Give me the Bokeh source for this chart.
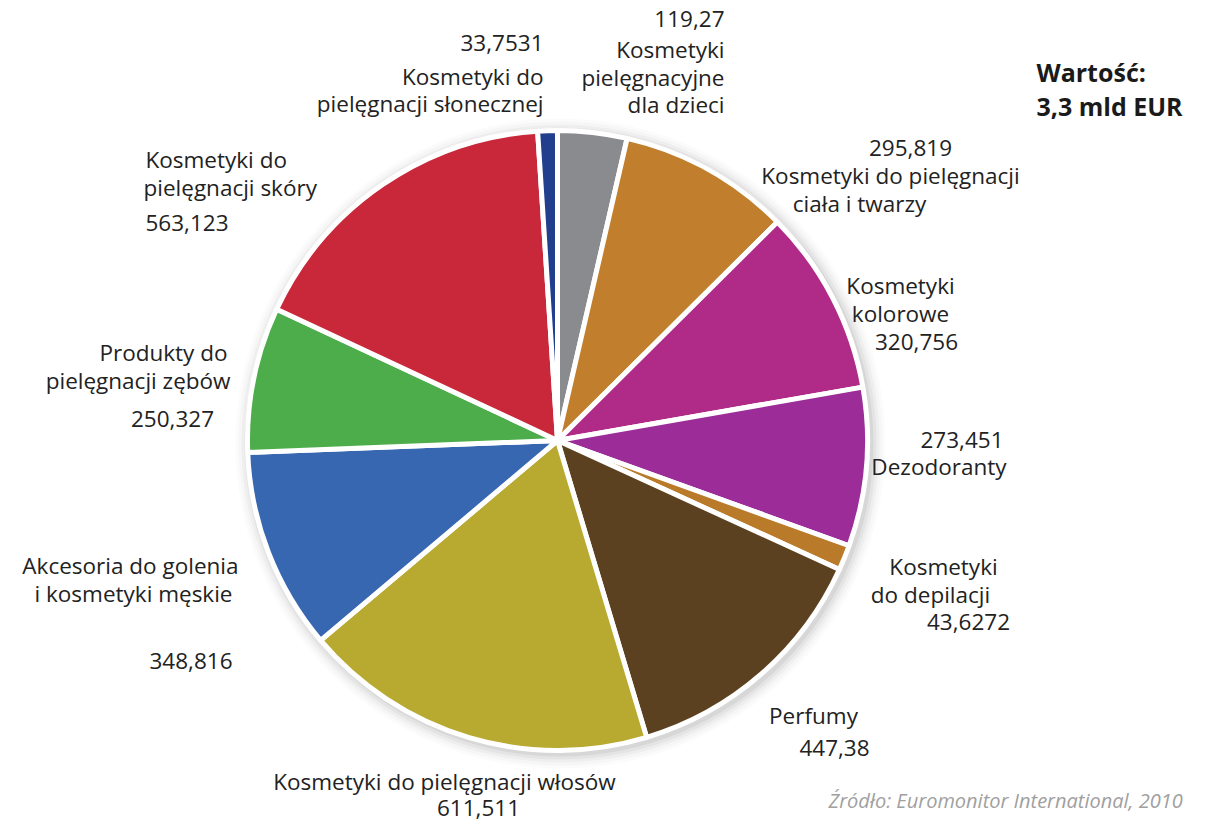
import math
from bokeh.plotting import figure
from bokeh.models import ColumnDataSource, Range1d
from bokeh.core.properties import value
from bokeh.embed import file_html
from bokeh.resources import INLINE

# ---- data (clockwise from 12 o'clock) ----
categories = [
    "Kosmetyki pielęgnacyjne dla dzieci",
    "Kosmetyki do pielęgnacji ciała i twarzy",
    "Kosmetyki kolorowe",
    "Dezodoranty",
    "Kosmetyki do depilacji",
    "Perfumy",
    "Kosmetyki do pielęgnacji włosów",
    "Akcesoria do golenia i kosmetyki męskie",
    "Produkty do pielęgnacji zębów",
    "Kosmetyki do pielęgnacji skóry",
    "Kosmetyki do pielęgnacji słonecznej",
]
values = [119.27, 295.819, 320.756, 273.451, 43.6272, 447.38,
          611.511, 348.816, 250.327, 563.123, 33.7531]
value_labels = ["119,27", "295,819", "320,756", "273,451", "43,6272", "447,38",
                "611,511", "348,816", "250,327", "563,123", "33,7531"]
colors = ["#8a8b8e", "#c17e2c", "#b02a88", "#9b2c98", "#b97a2a", "#5c4120",
          "#b8a930", "#3667b0", "#4dad4a", "#c8283a", "#223f8d"]

title_lines = ["Wartość:", "3,3 mld EUR"]
source_text = "Źródło: Euromonitor International, 2010"

# ---- layout (plot pixel coords, origin top-left) ----
W, H = 1193, 823
def Y(py):
    return H - py

CX, CY, R = 557, 440, 310

# label lines: (text, x, y, align)
label_lines = [
    (value_labels[10], 543, 42, "right"),
    ("Kosmetyki do", 543, 76, "right"),
    ("pielęgnacji słonecznej", 543, 103, "right"),
    (value_labels[0], 724, 18, "right"),
    ("Kosmetyki", 724, 49, "right"),
    ("pielęgnacyjne", 724, 77, "right"),
    ("dla dzieci", 724, 104, "right"),
    (value_labels[1], 910, 147, "center"),
    ("Kosmetyki do pielęgnacji", 890, 175, "center"),
    ("ciała i twarzy", 859, 203, "center"),
    ("Kosmetyki", 900, 285, "center"),
    ("kolorowe", 900, 313, "center"),
    (value_labels[2], 916, 341, "center"),
    (value_labels[3], 1003, 439, "right"),
    ("Dezodoranty", 1006, 466, "right"),
    ("Kosmetyki", 943, 566, "center"),
    ("do depilacji", 930, 594, "center"),
    (value_labels[4], 968, 621, "center"),
    ("Perfumy", 813, 715, "center"),
    (value_labels[5], 834, 747, "center"),
    ("Kosmetyki do pielęgnacji włosów", 444, 781, "center"),
    (value_labels[6], 478, 807, "center"),
    ("Akcesoria do golenia", 238, 565, "right"),
    ("i kosmetyki męskie", 232, 593, "right"),
    (value_labels[7], 232, 660, "right"),
    ("Produkty do", 227, 352, "right"),
    ("pielęgnacji zębów", 230, 380, "right"),
    (value_labels[8], 172, 418, "center"),
    ("Kosmetyki do", 145, 159, "left"),
    ("pielęgnacji skóry", 143, 187, "left"),
    (value_labels[9], 145, 222, "left"),
]

total = sum(values)
starts, ends = [], []
acc = 0.0
for v in values:
    starts.append(math.pi / 2 - 2 * math.pi * acc / total)
    acc += v
    ends.append(math.pi / 2 - 2 * math.pi * acc / total)

p = figure(width=W, height=H, output_backend="svg", toolbar_location=None,
           x_range=Range1d(0, W), y_range=Range1d(0, H),
           min_border=0, outline_line_color=None)
p.axis.visible = False
p.grid.visible = False
p.background_fill_color = "white"

# soft shadow
for i, a in enumerate([0.05, 0.04, 0.03, 0.02, 0.015]):
    p.circle(x=[CX + 3], y=[Y(CY) - 3], radius=R + 3 + 3 * i,
             fill_color="#000000", fill_alpha=a, line_color=None)

src = ColumnDataSource(dict(x=[CX] * len(values), y=[Y(CY)] * len(values),
                            start=starts, end=ends, color=colors, cat=categories,
                            val=values))
p.wedge(x="x", y="y", radius=R, start_angle="start", end_angle="end",
        direction="clock", fill_color="color", line_color="white",
        line_width=5, source=src)

for align in ["left", "center", "right"]:
    rows = [l for l in label_lines if l[3] == align]
    ls = ColumnDataSource(dict(x=[r[1] for r in rows], y=[Y(r[2]) for r in rows],
                               t=[r[0] for r in rows]))
    p.text(x="x", y="y", text="t", source=ls, text_align=align,
           text_baseline="middle", text_font=value("Open Sans"),
           text_font_size="22.5px", text_color="#222222")

p.text(x=[1036, 1036], y=[Y(71), Y(105)], text=title_lines, text_align="left",
       text_baseline="middle", text_font=value("Open Sans"),
       text_font_size="25px", text_font_style="bold", text_color="#1a1a1a")

p.text(x=[828], y=[Y(800)], text=[source_text], text_align="left",
       text_baseline="middle", text_font=value("Open Sans"),
       text_font_size="20px", text_font_style="italic", text_color="#a0a0a0")

open("out.html", "w").write(file_html(p, INLINE))
